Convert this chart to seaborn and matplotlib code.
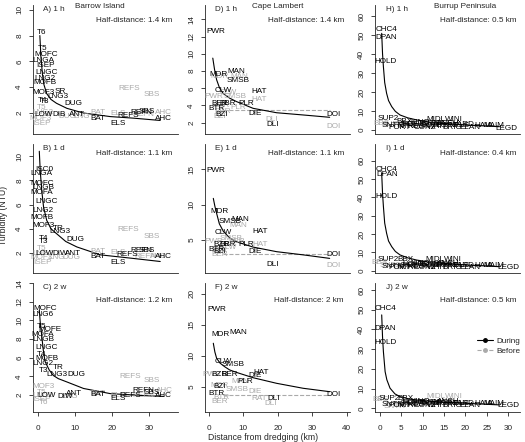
import matplotlib
matplotlib.use("Agg")
import matplotlib.pyplot as plt
import seaborn as sns
from matplotlib.lines import Line2D

# site labels: (name, distance km, turbidity NTU)
A_DURING = [("T6", 1.0, 8.2), ("T5", 1.3, 7.0), ("MOFC", 2.3, 6.5), ("LNGA", 1.4, 6.1),
            ("ISEP", 1.9, 5.7), ("LNGC", 2.35, 5.15), ("LNG2", 1.9, 4.7), ("MOFB", 1.9, 4.35),
            ("MOF3", 1.4, 3.57), ("SR", 5.9, 3.7), ("LNG3", 5.5, 3.3), ("T4", 1.2, 3.0),
            ("T3", 1.9, 2.9), ("DUG", 9.5, 2.75), ("LOW", 1.6, 1.85), ("DIB", 5.7, 1.85),
            ("ANT", 10.5, 1.85), ("BAT", 16.3, 1.55), ("ELS", 21.7, 1.2), ("REFS", 24.4, 1.8),
            ("REFN", 28.0, 2.0), ("SBS", 29.5, 2.1), ("AHC", 33.8, 1.55)]
A_BEFORE = [("T5", 1.0, 2.4), ("LNG2", 1.2, 2.0), ("MOF3", 0.8, 1.6), ("ISEP", 1.0, 1.2),
            ("T6", 2.5, 1.9), ("LNG", 11.8, 1.7), ("DUG", 8.0, 1.75), ("BAT", 16.3, 2.0),
            ("ELS", 21.5, 1.95), ("REFS", 24.7, 3.9), ("SBS", 30.7, 3.4), ("REFN", 28.5, 1.9),
            ("AHC", 33.8, 2.0)]
A_CURVE_X = [0.5, 0.8, 1.2, 1.6, 2.35, 3.5, 5.0, 7.8, 12.2, 19.5, 25.7, 33.0]
A_CURVE_Y = [8.0, 6.3, 5.0, 4.2, 3.5, 3.05, 2.75, 2.36, 2.0, 1.72, 1.6, 1.42]

B_DURING = [("ISC0", 1.6, 8.9), ("LNGA", 1.0, 8.6), ("MOFC", 1.2, 7.75), ("LNGB", 1.4, 7.4),
            ("MOFA", 1.0, 7.0), ("LNGC", 2.3, 6.25), ("LNG2", 1.4, 5.5), ("MOFB", 1.0, 4.95),
            ("MOF3", 1.4, 4.25), ("TR", 5.4, 4.0), ("LNG3", 6.0, 3.75), ("T4", 1.4, 3.2),
            ("T3", 1.4, 2.95), ("DUG", 10.0, 3.15), ("LOW", 1.9, 2.0), ("DIW", 6.0, 2.0),
            ("ANT", 9.5, 2.0), ("BAT", 16.3, 1.7), ("ELS", 21.7, 1.25), ("REFS", 24.0, 1.85),
            ("REFN", 28.0, 2.2), ("SBS", 29.5, 2.2), ("AHC", 33.9, 1.7)]
B_BEFORE = [("REFS", 24.4, 3.95), ("SBS", 30.7, 3.4), ("BAT", 16.3, 2.1), ("DUG", 9.1, 1.65),
            ("ELS", 21.5, 2.05), ("REFN", 29.0, 1.75), ("AHC", 32.5, 1.75), ("T5", 1.0, 2.4),
            ("LNG2", 1.2, 2.0), ("MOF3", 1.0, 1.6), ("ISEP", 1.2, 1.2), ("LNG", 5.0, 1.65)]
B_CURVE_X = [0.35, 0.6, 1.0, 1.5, 2.35, 3.5, 5.0, 7.5, 10.5, 16.8, 25.8, 33.0]
B_CURVE_Y = [10.4, 8.8, 7.2, 5.8, 4.7, 4.0, 3.6, 2.95, 2.5, 1.85, 1.55, 1.3]

C_DURING = [("MOFC", 1.9, 11.3), ("LNG6", 1.4, 10.6), ("T5", 1.0, 9.3), ("MOFE", 3.2, 9.0),
            ("MOFA", 1.4, 8.5), ("LNGB", 1.4, 7.9), ("LNGC", 2.35, 7.1), ("T4", 1.0, 6.3),
            ("MOFB", 2.35, 5.9), ("LNG2", 1.4, 5.4), ("TR", 5.5, 5.0), ("T3", 1.4, 4.6),
            ("LNG3", 5.0, 4.2), ("DUG", 10.3, 4.2), ("LOW", 2.3, 2.0), ("DIW", 7.3, 1.8),
            ("ANT", 9.7, 2.2), ("BAT", 16.3, 2.07), ("ELS", 21.7, 1.65), ("REFS", 24.9, 1.9),
            ("REFN", 28.5, 2.5), ("SBS", 30.7, 2.3), ("AHC", 33.9, 1.9)]
C_BEFORE = [("REFS", 24.9, 4.0), ("SBS", 30.7, 3.6), ("MOF3", 1.4, 2.9), ("T5", 1.0, 2.3),
            ("LNG2", 1.2, 1.9), ("ISEP", 1.0, 1.5), ("T6", 1.4, 1.2), ("LNG", 8.6, 1.8),
            ("BAT", 16.3, 2.2), ("ELS", 21.5, 2.0), ("REFN", 28.5, 2.0), ("AHC", 34.0, 2.5)]
C_CURVE_X = [0.35, 0.6, 1.0, 1.4, 1.9, 3.0, 4.1, 5.5, 7.8, 12.3, 19.5, 27.6, 33.9]
C_CURVE_Y = [11.1, 9.8, 8.4, 6.9, 5.6, 4.7, 4.1, 3.75, 3.4, 2.7, 2.15, 1.95, 1.85]

D_DURING = [("PWR", 1.9, 12.6), ("MDR", 2.7, 7.65), ("MAN", 8.0, 8.0), ("SMSB", 8.5, 6.85),
            ("CLW", 4.2, 5.7), ("HAT", 14.6, 5.6), ("BER", 3.0, 4.25), ("BBR", 5.5, 4.25),
            ("PLR", 10.7, 4.2), ("BTR", 2.2, 3.67), ("BZI", 3.7, 3.0), ("DIE", 13.4, 3.1),
            ("DLI", 18.5, 1.85), ("DOI", 36.0, 3.0)]
D_BEFORE = [("MDR", 3.0, 7.4), ("MAN", 8.7, 7.4), ("PWR", 1.3, 5.0), ("SMSB", 7.6, 5.0),
            ("CLW", 5.5, 5.5), ("HAT", 14.6, 4.7), ("BTR", 3.5, 4.0), ("BER", 4.0, 3.3),
            ("BZI", 3.0, 2.7), ("DLI", 18.2, 2.4), ("DOI", 36.0, 1.6), ("PLR", 8.5, 3.8)]
D_CURVE_X = [1.1, 1.6, 2.2, 3.0, 4.1, 6.0, 8.0, 12.8, 19.6, 27.3, 35.0]
D_CURVE_Y = [9.5, 8.2, 7.0, 6.1, 5.4, 4.85, 4.45, 3.67, 3.16, 2.9, 2.63]
D_BASE_X = [4.0, 35.0]
D_BASE_Y = [3.45, 3.45]

E_DURING = [("PWR", 1.9, 14.8), ("MDR", 3.0, 9.0), ("MAN", 9.0, 7.9), ("SMSB", 6.1, 7.6),
            ("CLW", 4.2, 6.0), ("HAT", 14.8, 6.2), ("BZR", 3.5, 4.4), ("BBR", 5.5, 4.4),
            ("PLR", 10.9, 4.4), ("BTR", 2.2, 3.7), ("BZI", 3.0, 3.4), ("DIE", 13.3, 3.35),
            ("DLI", 18.5, 1.6), ("DOI", 36.0, 3.0)]
E_BEFORE = [("MAN", 8.4, 7.0), ("PWR", 1.3, 4.75), ("SMSB", 6.5, 5.2), ("BER", 8.0, 4.8),
            ("HAT", 14.8, 4.3), ("BER", 3.2, 2.9), ("BTR", 3.0, 3.5), ("DOI", 36.0, 1.45),
            ("CLW", 5.5, 4.0)]
E_CURVE_X = [1.25, 1.7, 2.2, 3.0, 4.2, 6.0, 8.0, 12.8, 19.6, 27.3, 35.0]
E_CURVE_Y = [10.9, 9.8, 8.8, 7.3, 6.2, 5.3, 4.75, 4.0, 3.35, 2.9, 2.4]
E_BASE_X = [4.0, 35.0]
E_BASE_Y = [3.05, 3.05]

F_DURING = [("PWR", 2.2, 17.5), ("MDR", 3.2, 13.4), ("MAN", 8.5, 13.8), ("CLW", 4.2, 9.1),
            ("SMSB", 7.1, 8.5), ("HAT", 15.0, 7.3), ("DIE", 13.3, 6.8), ("BZR", 3.0, 6.9),
            ("BER", 6.0, 6.9), ("PLR", 10.5, 5.9), ("BZI", 3.0, 5.0), ("BTR", 2.2, 3.9),
            ("DLI", 18.7, 3.1), ("DOI", 36.0, 3.7)]
F_BEFORE = [("PWR", 0.8, 7.0), ("MAN", 9.0, 5.8), ("MDR", 3.0, 5.2), ("SMSB", 8.0, 4.6),
            ("DIE", 13.3, 4.3), ("RAT", 14.6, 3.1), ("DLI", 18.0, 2.3), ("BER", 3.2, 2.6),
            ("BTR", 3.5, 3.2)]
F_CURVE_X = [1.25, 1.7, 2.2, 3.2, 4.6, 6.0, 8.0, 12.8, 19.6, 27.3, 35.0]
F_CURVE_Y = [12.0, 10.6, 9.6, 8.8, 8.2, 7.7, 7.3, 6.45, 5.55, 4.75, 4.2]
F_BASE_X = [4.0, 35.0]
F_BASE_Y = [3.7, 3.7]

H_DURING = [("CHC4", 1.5, 53.0), ("DPAN", 1.4, 48.6), ("HOLD", 1.4, 36.3), ("SUP2", 1.9, 6.0),
            ("BBX", 5.8, 4.6), ("SNTR", 3.0, 2.2), ("NTRI", 6.2, 1.6), ("HOHS", 8.0, 3.0),
            ("KGBY", 9.0, 2.0), ("CONZ", 10.5, 1.4), ("DOLP", 12.0, 2.5), ("WHIT", 13.5, 1.6),
            ("MIDL", 13.0, 5.3), ("WINI", 17.2, 5.3), ("EGRT", 15.5, 2.4), ("BRIG", 17.0, 1.5),
            ("NELS", 18.5, 2.6), ("ELAN", 21.0, 1.5), ("KING", 9.5, 3.8), ("TERM", 11.5, 3.3),
            ("HAIA", 24.2, 2.5), ("MAIM", 26.6, 2.4), ("LEGD", 29.6, 0.9), ("ROSE", 14.5, 3.2),
            ("YARD", 19.5, 2.8), ("ANCH", 16.0, 3.6), ("TIDE", 7.0, 2.8), ("PORT", 4.5, 1.5)]
H_BEFORE = [("BBS", 0.3, 3.5), ("SUP2", 2.8, 3.0), ("MIDL", 13.0, 3.2)]
H_CURVE_X = [0.4, 0.6, 0.8, 1.1, 1.55, 2.0, 2.75, 3.6, 4.7, 6.5, 8.6, 12.5, 20.3, 28.0]
H_CURVE_Y = [50.9, 40.0, 33.3, 25.0, 19.3, 15.5, 12.3, 9.8, 7.9, 6.4, 5.3, 3.85, 2.6, 1.75]

I_DURING = [("CHC4", 1.55, 55.0), ("DPAN", 1.7, 52.2), ("HOLD", 1.5, 40.7), ("SUP2", 1.9, 6.2),
            ("BBX", 5.9, 6.0), ("SNTR", 3.0, 2.4), ("NTRI", 6.2, 1.8), ("HOHS", 8.0, 3.2),
            ("KGBY", 9.0, 2.2), ("CONZ", 10.5, 1.6), ("DOLP", 12.0, 2.7), ("WHIT", 13.5, 1.8),
            ("MIDL", 12.9, 6.2), ("WINI", 17.1, 6.2), ("EGRT", 15.5, 2.6), ("BRIG", 17.0, 1.7),
            ("NELS", 18.5, 2.8), ("ELAN", 21.0, 1.7), ("KING", 9.5, 4.0), ("TERM", 11.5, 3.5),
            ("HAIA", 24.2, 2.7), ("MAIM", 26.6, 2.6), ("LEGD", 30.0, 1.5), ("ROSE", 14.5, 3.4),
            ("YARD", 19.5, 3.0), ("ANCH", 16.0, 3.8), ("TIDE", 7.0, 3.0), ("PORT", 4.5, 1.7)]
I_BEFORE = [("BBS", -0.2, 4.4), ("SUP2", 2.5, 3.0), ("MIDL", 13.0, 3.5)]
I_CURVE_X = [0.4, 0.6, 0.8, 1.1, 1.55, 2.0, 2.75, 3.6, 4.7, 6.5, 8.6, 12.5, 20.3, 28.0]
I_CURVE_Y = [53.0, 42.0, 35.0, 26.0, 20.4, 16.2, 13.1, 10.5, 8.6, 7.0, 5.8, 4.4, 3.1, 2.2]

J_DURING = [("CHC4", 1.2, 50.8), ("DPAN", 1.3, 40.6), ("HOLD", 1.3, 33.5), ("SUP2", 2.1, 5.1),
            ("BBX", 5.9, 5.1), ("SNTR", 3.0, 2.0), ("NTRI", 6.2, 1.6), ("HOHS", 8.0, 2.8),
            ("KGBY", 9.0, 2.0), ("CONZ", 10.5, 1.4), ("DOLP", 12.0, 2.4), ("WHIT", 13.5, 1.6),
            ("EGRT", 15.5, 2.2), ("BRIG", 17.0, 1.5), ("NELS", 18.5, 2.4), ("ELAN", 21.0, 1.5),
            ("KING", 9.5, 3.4), ("TERM", 11.5, 3.0), ("HAIA", 24.2, 2.3), ("MAIM", 26.6, 2.2),
            ("LEGD", 30.0, 1.2), ("ROSE", 14.5, 3.0), ("YARD", 19.5, 2.6), ("ANCH", 16.0, 3.3),
            ("TIDE", 7.0, 2.6), ("PORT", 4.5, 1.5)]
J_BEFORE = [("BBS", 0.2, 4.2), ("MIDL", 13.0, 5.9), ("WINI", 17.2, 5.9), ("SNTR", 3.5, 1.0)]
J_CURVE_X = [0.4, 0.6, 0.8, 1.2, 1.6, 2.35, 3.5, 4.7, 6.5, 8.6, 12.5, 20.3, 28.0]
J_CURVE_Y = [47.4, 36.0, 28.7, 18.6, 14.5, 10.2, 7.3, 5.9, 4.9, 4.2, 3.4, 2.5, 1.7]

PANEL_TAGS = ["A) 1 h", "B) 1 d", "C) 2 w", "D) 1 h", "E) 1 d", "F) 2 w", "H) 1 h", "I) 1 d", "J) 2 w"]
HALF_DIST = ["1.4", "1.1", "1.2", "1.4", "1.1", "2", "0.5", "0.4", "0.5"]
SITES = ["Barrow Island", "Cape Lambert", "Burrup Peninsula"]

if __name__ == '__main__':
    sns.set_style("ticks")
    plt.rcParams['font.family'] = ['Liberation Sans', 'DejaVu Sans']
    grey = "#aaaaaa"
    fs = 5.9

    panels = [
        (A_DURING, A_BEFORE, A_CURVE_X, A_CURVE_Y, None, None),
        (B_DURING, B_BEFORE, B_CURVE_X, B_CURVE_Y, None, None),
        (C_DURING, C_BEFORE, C_CURVE_X, C_CURVE_Y, None, None),
        (D_DURING, D_BEFORE, D_CURVE_X, D_CURVE_Y, D_BASE_X, D_BASE_Y),
        (E_DURING, E_BEFORE, E_CURVE_X, E_CURVE_Y, E_BASE_X, E_BASE_Y),
        (F_DURING, F_BEFORE, F_CURVE_X, F_CURVE_Y, F_BASE_X, F_BASE_Y),
        (H_DURING, H_BEFORE, H_CURVE_X, H_CURVE_Y, None, None),
        (I_DURING, I_BEFORE, I_CURVE_X, I_CURVE_Y, None, None),
        (J_DURING, J_BEFORE, J_CURVE_X, J_CURVE_Y, None, None),
    ]
    ylims = [(0.37, 10.37), (0.35, 11.0), (0.18, 14.0),
             (0.69, 15.67), (0.33, 18.6), (0.93, 21.7),
             (-2.1, 65.8), (-1.25, 69.1), (-1.9, 63.6)]
    yticks = [[2, 4, 6, 8, 10], [2, 4, 6, 8, 10], [2, 4, 6, 8, 10, 12, 14],
              [2, 4, 6, 8, 10, 12, 14], [5, 10, 15], [5, 10, 15, 20],
              list(range(0, 61, 10)), list(range(0, 61, 10)), list(range(0, 61, 10))]
    xlims = [(-1.35, 37.8), (-1.16, 40.9), (-1.17, 32.8)]
    xticks = [[0, 10, 20, 30], [0, 10, 20, 30, 40], [0, 5, 10, 15, 20, 25, 30]]

    W, H = 525.0, 442.0
    col_left = [33, 205, 375]
    row_top = [5, 144, 283]
    pw, ph = 145, 129
    tag_left = [43.3, 215, 385.5]
    hd_right = [172, 344, 516]
    tag_y = [9.3, 148.3, 287.5]
    hd_y = [20, 153.3, 300]

    fig = plt.figure(figsize=(5.25, 4.42), dpi=100)
    axes = []
    for i, (during, before, cx, cy, bx, by) in enumerate(panels):
        col, row = i // 3, i % 3
        l, t = col_left[col], row_top[row]
        ax = fig.add_axes([l / W, 1 - (t + ph) / H, pw / W, ph / H])
        axes.append(ax)

        if bx is not None:
            sns.lineplot(x=bx, y=by, color=grey, lw=0.8, linestyle="--", ax=ax)
        sns.lineplot(x=cx, y=cy, color="black", lw=0.8, ax=ax)
        for name, x, y in before:
            ax.text(x, y, name, color=grey, fontsize=fs, ha="center", va="center")
        for name, x, y in during:
            ax.text(x, y, name, color="black", fontsize=fs, ha="center", va="center")

        ax.set_xlim(*xlims[col])
        ax.set_ylim(*ylims[i])
        ax.set_yticks(yticks[i])
        ax.set_yticklabels([str(v) for v in yticks[i]], rotation=90, va="center")
        if row == 2:
            ax.set_xticks(xticks[col])
            ax.set_xticklabels([str(v) for v in xticks[col]])
        else:
            ax.set_xticks([])
        for s in ["top", "right"]:
            ax.spines[s].set_visible(False)
        for s in ["left", "bottom"]:
            ax.spines[s].set_linewidth(0.6)
        ax.tick_params(axis="y", length=3, width=0.6, pad=4, labelsize=fs)
        ax.tick_params(axis="x", length=3, width=0.6, pad=6, labelsize=fs)
        ax.set_xlabel("")
        ax.set_ylabel("")

        fig.text(tag_left[col] / W, 1 - tag_y[row] / H, PANEL_TAGS[i], fontsize=fs,
                 ha="left", va="center")
        fig.text(hd_right[col] / W, 1 - hd_y[row] / H, "Half-distance: " + HALF_DIST[i] + " km",
                 fontsize=fs, ha="right", va="center")

    site_x = [100, 278, 465]
    for c in range(3):
        fig.text(site_x[c] / W, 1 - 6 / H, SITES[c], fontsize=fs, ha="center", va="center")

    fig.text(4 / W, 1 - 215 / H, "Turbidity (NTU)", fontsize=6.2, rotation=90,
             ha="center", va="center")
    fig.text(263 / W, 1 - 437 / H, "Distance from dredging (km)", fontsize=6.2,
             ha="center", va="center")

    handles = [Line2D([], [], color="black", marker="o", ms=2.5, lw=0.8),
               Line2D([], [], color=grey, marker="o", ms=2.5, lw=0.8, ls="--")]
    axes[8].legend(handles, ["During", "Before"], loc="upper left",
                   bbox_to_anchor=(0.676, 0.61), frameon=False, fontsize=fs,
                   handlelength=1.9, handletextpad=0.45, labelspacing=0.2, borderpad=0)

    fig.savefig("out.png", dpi=100)
